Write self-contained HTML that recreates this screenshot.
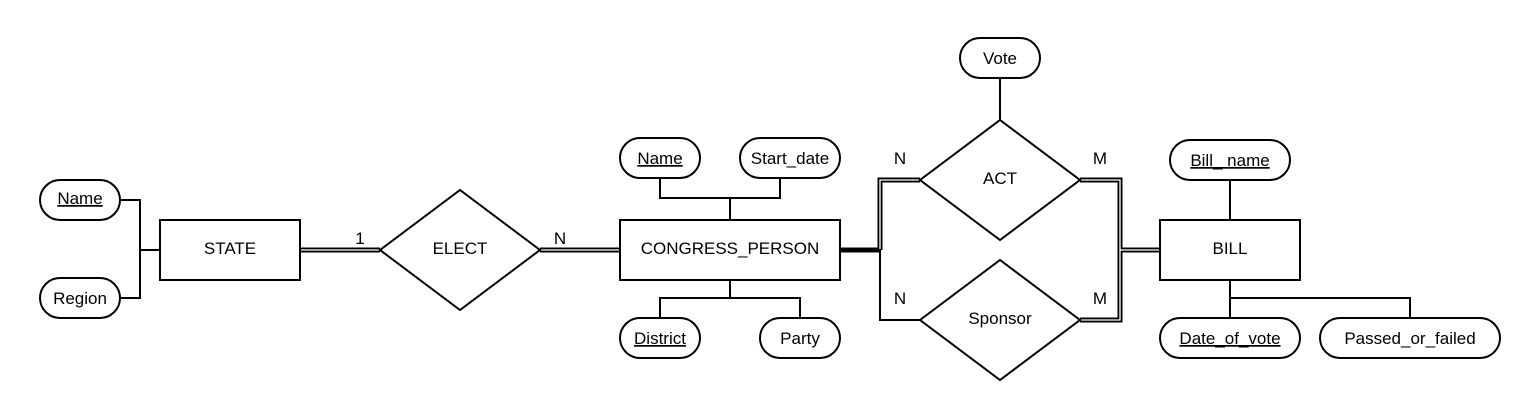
<!DOCTYPE html>
<html><head><meta charset="utf-8"><style>
html,body{margin:0;padding:0;background:#fff;}
svg{display:block;}
text{font-family:"Liberation Sans",sans-serif;font-size:17px;fill:#000;}
</style></head><body>
<svg width="1540" height="420" viewBox="0 0 1540 420" xmlns="http://www.w3.org/2000/svg">
<g fill="none" stroke="#000" stroke-width="2">
<polyline points="120,200 140,200 140,298 120,298"/>
<line x1="140" y1="250" x2="160" y2="250"/>
<polyline points="660,178 660,198 780,198 780,178"/>
<line x1="730" y1="198" x2="730" y2="220"/>
<polyline points="660,318 660,298 800,298 800,318"/>
<line x1="730" y1="280" x2="730" y2="298"/>
<line x1="1000" y1="78" x2="1000" y2="120"/>
<line x1="1230" y1="180" x2="1230" y2="220"/>
<line x1="1230" y1="280" x2="1230" y2="318"/>
<polyline points="1230,298 1410,298 1410,318"/>
<polyline points="880,250 880,320 920,320"/>
<line x1="840" y1="250" x2="881" y2="250" stroke-width="5"/>
</g>
<g fill="none" stroke="#000" stroke-width="5">
<line x1="300" y1="250" x2="380" y2="250"/>
<line x1="540" y1="250" x2="620" y2="250"/>
<polyline points="880,250 880,180 920,180"/>
<polyline points="1080,180 1120,180 1120,320 1080,320"/>
<line x1="1120" y1="250" x2="1160" y2="250"/>
</g>
<g fill="none" stroke="#fff" stroke-width="1.3">
<line x1="300" y1="250" x2="379" y2="250"/>
<line x1="541" y1="250" x2="620" y2="250"/>
<polyline points="880,249 880,180 919,180"/>
<polyline points="1081,180 1120,180 1120,320 1081,320"/>
<line x1="1120" y1="250" x2="1160" y2="250"/>
</g>
<g fill="#fff" stroke="#000" stroke-width="2">
<rect x="40" y="180" width="80" height="40" rx="20"/>
<rect x="40" y="278" width="80" height="40" rx="20"/>
<rect x="160" y="220" width="140" height="60"/>
<polygon points="380,250 460,190 540,250 460,310"/>
<rect x="620" y="220" width="220" height="60"/>
<rect x="620" y="138" width="80" height="40" rx="20"/>
<rect x="740" y="138" width="100" height="40" rx="20"/>
<rect x="620" y="318" width="80" height="40" rx="20"/>
<rect x="760" y="318" width="80" height="40" rx="20"/>
<polygon points="920,180 1000,120 1080,180 1000,240"/>
<polygon points="920,320 1000,260 1080,320 1000,380"/>
<rect x="960" y="38" width="80" height="40" rx="20"/>
<rect x="1160" y="220" width="140" height="60"/>
<rect x="1170" y="140" width="120" height="40" rx="20"/>
<rect x="1160" y="318" width="140" height="40" rx="20"/>
<rect x="1320" y="318" width="180" height="40" rx="20"/>
</g>
<g text-anchor="middle">
<text x="80" y="204" text-decoration="underline">Name</text>
<text x="80" y="304">Region</text>
<text x="230" y="254">STATE</text>
<text x="460" y="254">ELECT</text>
<text x="730" y="254">CONGRESS_PERSON</text>
<text x="660" y="164" text-decoration="underline">Name</text>
<text x="790" y="164">Start_date</text>
<text x="660" y="344" text-decoration="underline">District</text>
<text x="800" y="344">Party</text>
<text x="1000" y="64">Vote</text>
<text x="1000" y="184">ACT</text>
<text x="1000" y="324">Sponsor</text>
<text x="1230" y="254">BILL</text>
<text x="1230" y="166" text-decoration="underline">Bill_ name</text>
<text x="1230" y="344" text-decoration="underline">Date_of_vote</text>
<text x="1410" y="344">Passed_or_failed</text>
<text x="360" y="244">1</text>
<text x="560" y="244">N</text>
<text x="900" y="164">N</text>
<text x="1100" y="164">M</text>
<text x="900" y="304">N</text>
<text x="1100" y="304">M</text>
</g>
</svg>
</body></html>
